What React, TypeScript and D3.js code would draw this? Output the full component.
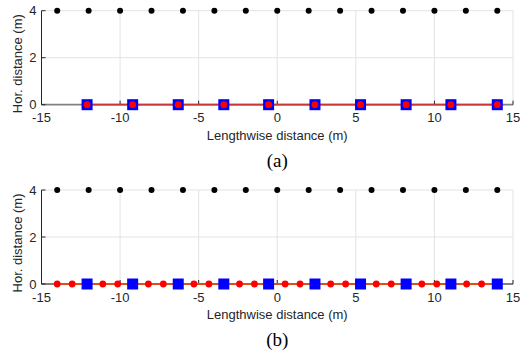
import React from "react";
import * as d3 from "d3";

const xTicks = [-15, -10, -5, 0, 5, 10, 15];
const yTicks = [0, 2, 4];
const blackDotsX = [-14, -12, -10, -8, -6, -4, -2, 0, 2, 4, 6, 8, 10, 12, 14];
const blackDotsY = 4;
const squaresX = [-12.1, -9.2, -6.3, -3.4, -0.55, 2.4, 5.3, 8.2, 11.05, 14.0];
const redDotsA = [-12.1, -9.2, -6.3, -3.4, -0.55, 2.4, 5.3, 8.2, 11.05, 14.0];
const redDotsB = [-14, -13.05, -11.1, -10.15, -8.2, -7.25, -5.3, -4.35, -2.4, -1.45, 0.5, 1.45, 3.4, 4.35, 6.3, 7.25, 9.2, 10.15, 12.05, 13.0];
const panelLabels = ["(a)", "(b)"];
const xLabel = "Lengthwise distance (m)";
const yLabel = "Hor. distance (m)";

const W = 529;
const H = 356;

function Panel({ top, redDots, lineColor, lineFrom, label }: any) {
  const x = d3.scaleLinear().domain([-15, 15]).range([41.5, 513]);
  const y = d3.scaleLinear().domain([0, 4]).range([top + 94, top]);
  const font = "Arial, 'Liberation Sans', Helvetica, sans-serif";
  const line = d3.line<number>().x((d) => x(d)).y(() => y(0));
  const lineEnd = squaresX[squaresX.length - 1];
  return (
    <g>
      {xTicks.slice(1).map((t) => (
        <line key={"gx" + t} x1={x(t)} x2={x(t)} y1={y(0)} y2={y(4)} stroke="#e3e3e3" strokeWidth={1} />
      ))}
      {yTicks.slice(1).map((t) => (
        <line key={"gy" + t} x1={x(-15)} x2={x(15)} y1={y(t)} y2={y(t)} stroke="#e3e3e3" strokeWidth={1} />
      ))}
      <line x1={x(-15)} x2={x(-15)} y1={y(0)} y2={y(4)} stroke="#262626" strokeWidth={1} />
      <line x1={x(-15)} x2={x(15)} y1={y(0)} y2={y(0)} stroke="#808080" strokeWidth={1.8} />
      {xTicks.map((t) => (
        <line key={"tx" + t} x1={x(t)} x2={x(t)} y1={y(0)} y2={y(0) - 4} stroke="#262626" strokeWidth={1} />
      ))}
      {yTicks.map((t) => (
        <line key={"ty" + t} x1={x(-15)} x2={x(-15) + 4} y1={y(t)} y2={y(t)} stroke="#262626" strokeWidth={1} />
      ))}
      {xTicks.map((t) => (
        <text key={"lx" + t} x={x(t)} y={y(0) + 17.5} textAnchor="middle" fontFamily={font} fontSize={13} fill="#262626">
          {t}
        </text>
      ))}
      {yTicks.map((t) => (
        <text key={"ly" + t} x={x(-15) - 5} y={y(t) + 4.5} textAnchor="end" fontFamily={font} fontSize={13} fill="#262626">
          {t}
        </text>
      ))}
      <text x={(x(-15) + x(15)) / 2} y={y(0) + 35} textAnchor="middle" fontFamily={font} fontSize={13} fill="#262626">
        {xLabel}
      </text>
      <text
        transform={`translate(${22},${(y(0) + y(4)) / 2 + 6}) rotate(-90)`}
        textAnchor="middle"
        fontFamily={font}
        fontSize={13}
        fill="#262626"
      >
        {yLabel}
      </text>
      <text x={(x(-15) + x(15)) / 2} y={y(0) + 62} textAnchor="middle" fontFamily="'Liberation Serif', 'Times New Roman', serif" fontSize={19} fill="#000">
        {label}
      </text>
      <path d={line([lineFrom, lineEnd]) || ""} stroke={lineColor} strokeWidth={1.8} fill="none" />
      {blackDotsX.map((v, i) => (
        <circle key={"b" + i} cx={x(v)} cy={y(blackDotsY)} r={3} fill="#000" />
      ))}
      {squaresX.map((v, i) => (
        <rect key={"s" + i} x={x(v) - 5.5} y={y(0) - 5.5} width={11} height={11} fill="#0000ff" />
      ))}
      {redDots.map((v: number, i: number) => (
        <circle key={"r" + i} cx={x(v)} cy={y(0)} r={3.4} fill="#ff0000" />
      ))}
    </g>
  );
}

export default function App() {
  return (
    <svg width={W} height={H} style={{ position: "absolute", left: 0, top: 0 }}>
      <rect width={W} height={H} fill="#fff" />
      <Panel top={10.7} redDots={redDotsA} lineColor="#c83737" lineFrom={squaresX[0]} label={panelLabels[0]} />
      <Panel top={190} redDots={redDotsB} lineColor="#d95319" lineFrom={redDotsB[0]} label={panelLabels[1]} />
    </svg>
  );
}
